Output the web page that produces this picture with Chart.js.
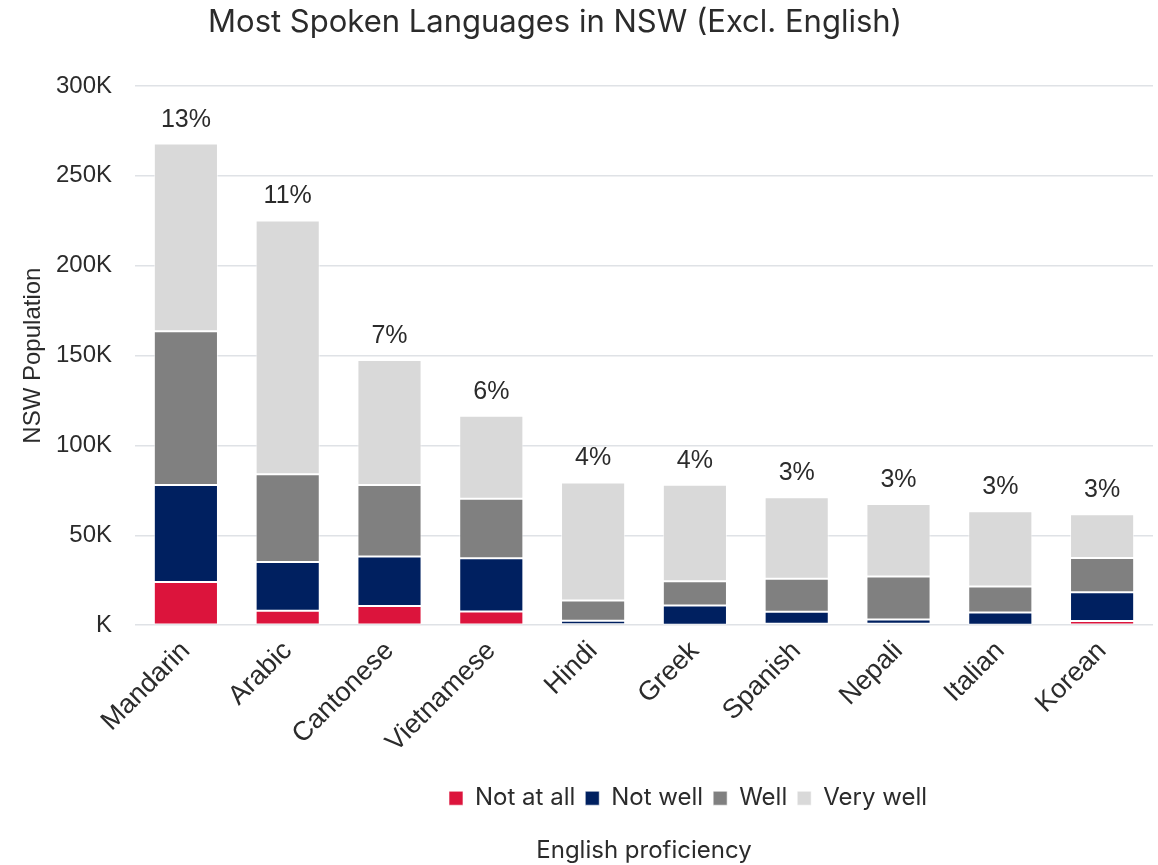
<!DOCTYPE html>
<html>
<head>
<meta charset="utf-8">
<script src="https://cdn.jsdelivr.net/npm/chart.js@4"></script>
<style>
  html, body { margin: 0; padding: 0; background: #fff; }
  #wrap { width: 1158px; height: 865px; }
</style>
</head>
<body>
<div id="wrap"><canvas id="chart"></canvas></div>
<script>
// Languages and English proficiency counts (in thousands)
const languages = ['Mandarin', 'Arabic', 'Cantonese', 'Vietnamese', 'Hindi', 'Greek', 'Spanish', 'Nepali', 'Italian', 'Korean'];
const notAtAll = [24, 8, 10.7, 7.6, 0.5, 0.3, 0.8, 0.8, 0.3, 2.4];
const notWell  = [54, 27.2, 27.5, 29.6, 2, 10.7, 6.7, 2.4, 6.8, 15.9];
const well     = [85.5, 48.8, 39.8, 33.2, 11.2, 13.5, 18.3, 23.9, 14.4, 19.1];
const veryWell = [104.5, 141.2, 69.6, 46.2, 65.7, 53.6, 45.4, 40.4, 41.9, 24.3];
const shares   = ['13%', '11%', '7%', '6%', '4%', '4%', '3%', '3%', '3%', '3%'];
const yTicks   = [0, 50, 100, 150, 200, 250, 300];
const chartTitle = 'Most Spoken Languages in NSW (Excl. English)';

const textColor = '#2b2b2b';
const sansFont = "'Liberation Sans', Arial, sans-serif";
const headFont = "Inter, 'Noto Sans', sans-serif";

// share label above each stacked bar, plus the chart title
const shareLabels = {
    id: 'shareLabels',
    afterLayout(chart) {
        // legend sits a bit right of centre in the original
        chart.legend.left += 44;
        chart.legend.right += 44;
    },
    afterDatasetsDraw(chart) {
        const ctx = chart.ctx;
        const topMeta = chart.getDatasetMeta(chart.data.datasets.length - 1);
        ctx.save();
        ctx.font = "25px " + sansFont;
        ctx.fillStyle = textColor;
        ctx.textAlign = 'center';
        ctx.textBaseline = 'alphabetic';
        topMeta.data.forEach((bar, i) => {
            ctx.fillText(shares[i], bar.x, bar.y - 17);
        });

        ctx.font = "31px " + headFont;
        ctx.textBaseline = 'middle';
        ctx.fillText(chartTitle, 555, 23);
        ctx.restore();
    }
};

const barStyle = { borderColor: 'rgba(255,255,255,0.6)', borderWidth: 1, borderSkipped: false };

new Chart(document.getElementById('chart').getContext('2d'), {
    type: 'bar',
    data: {
        labels: languages,
        datasets: [
            { label: 'Not at all', data: notAtAll, backgroundColor: '#dc143c', ...barStyle },
            { label: 'Not well', data: notWell, backgroundColor: '#002060', ...barStyle },
            { label: 'Well', data: well, backgroundColor: '#808080', ...barStyle },
            { label: 'Very well', data: veryWell, backgroundColor: '#d9d9d9', ...barStyle }
        ]
    },
    options: {
        responsive: true,
        maintainAspectRatio: false,
        animation: false,
        layout: { padding: { left: 10, right: 5, top: 86, bottom: 0 } },
        datasets: { bar: { categoryPercentage: 1, barPercentage: 0.63 } },
        plugins: {
            title: { display: false },
            subtitle: {
                display: true,
                position: 'bottom',
                fullSize: false,
                text: 'English proficiency',
                color: textColor,
                font: { family: headFont, size: 24, weight: 'normal' },
                padding: { top: 16, bottom: 0 }
            },
            legend: {
                position: 'bottom',
                fullSize: false,
                labels: {
                    color: textColor,
                    font: { family: headFont, size: 24 },
                    boxWidth: 14,
                    boxHeight: 14,
                    padding: 10
                }
            },
            tooltip: { enabled: false }
        },
        scales: {
            x: {
                stacked: true,
                grid: { display: false },
                border: { display: false },
                ticks: {
                    color: textColor,
                    font: { family: sansFont, size: 27 },
                    minRotation: 45,
                    maxRotation: 45,
                    padding: 2
                },
                afterFit(axis) {
                    axis.height = 151;
                    axis.paddingLeft = 0;
                    axis.paddingRight = 0;
                }
            },
            y: {
                stacked: true,
                min: 0,
                max: 300,
                afterBuildTicks(axis) {
                    axis.ticks = yTicks.map(v => ({ value: v }));
                },
                afterFit(axis) {
                    axis.width = 125;
                },
                grid: { color: '#dfe2e6', lineWidth: 1.5, drawTicks: false },
                border: { display: false },
                ticks: {
                    color: textColor,
                    font: { family: sansFont, size: 24 },
                    padding: 23,
                    callback: v => (v === 0 ? '' : v) + 'K'
                },
                title: {
                    display: true,
                    text: 'NSW Population',
                    color: textColor,
                    font: { family: sansFont, size: 24 },
                    padding: { top: 9, bottom: 9 }
                }
            }
        }
    },
    plugins: [shareLabels]
});
</script>
</body>
</html>
